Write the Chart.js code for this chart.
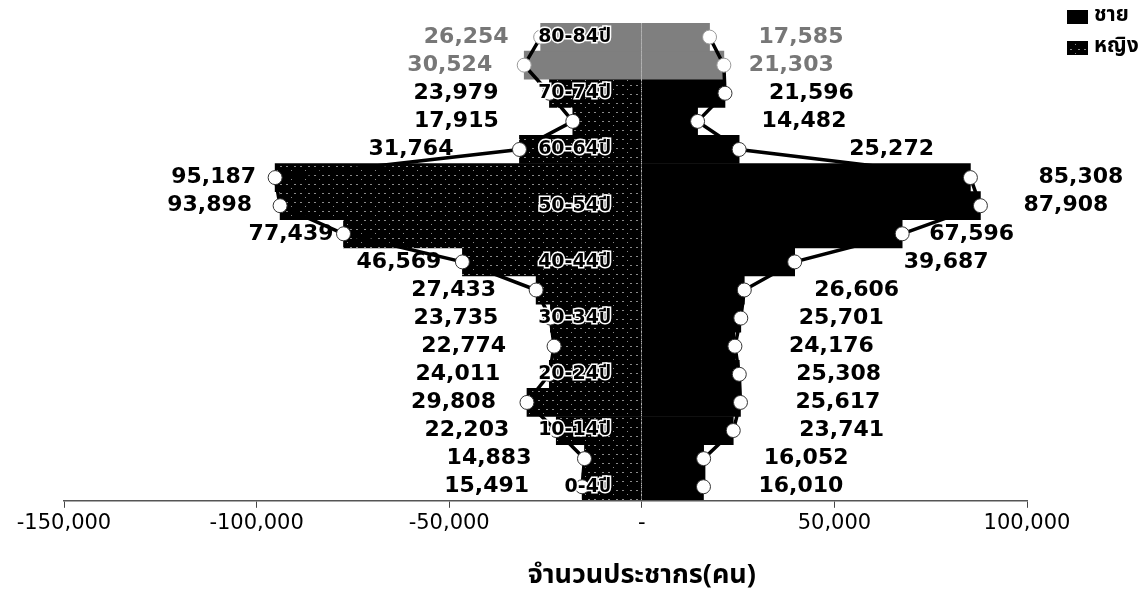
<!DOCTYPE html>
<html>
<head>
<meta charset="utf-8">
<script src="https://cdn.jsdelivr.net/npm/chart.js@4.4.1/dist/chart.umd.min.js"></script>
<style>
  html, body { margin: 0; padding: 0; background: #fff; }
</style>
</head>
<body>
<canvas id="pyramid" width="1146" height="599"></canvas>
<script>
// age groups, youngest first (drawn bottom-up)
const ageGroups = ['0-4ปี', '5-9ปี', '10-14ปี', '15-19ปี', '20-24ปี', '25-29ปี', '30-34ปี', '35-39ปี',
  '40-44ปี', '45-49ปี', '50-54ปี', '55-59ปี', '60-64ปี', '65-69ปี', '70-74ปี', '75-79ปี', '80-84ปี'];
const male = [16010, 16052, 23741, 25617, 25308, 24176, 25701, 26606, 39687,
  67596, 87908, 85308, 25272, 14482, 21596, 21303, 17585];
const female = [15491, 14883, 22203, 29808, 24011, 22774, 23735, 27433, 46569,
  77439, 93898, 95187, 31764, 17915, 23979, 30524, 26254];
const xTickValues = [-150000, -100000, -50000, 0, 50000, 100000];
const seriesNames = ['ชาย', 'หญิง'];
const axisTitle = 'จำนวนประชากร(คน)';

// how far each value label sits from its point (px)
const gapLeft = [53, 53, 47, 31, 49, 48, 52, 40, 21, 10, 28, 19, 66, 74, 51, 32, 32];
const gapRight = [55, 60, 66, 55, 57, 54, 58, 70, 109, 27, 43, 68, 110, 64, 44, 25, 49];

const thaiFont = "Tahoma, 'Noto Sans Thai', 'Noto Sans', 'DejaVu Sans', sans-serif";
const numFont = "'DejaVu Sans', Verdana, sans-serif";
const faded = '#7f7f7f';
const isFaded = i => i >= ageGroups.length - 2;

function femalePattern() {
  const c = document.createElement('canvas');
  c.width = 14; c.height = 9;
  const g = c.getContext('2d');
  g.fillStyle = '#000';
  g.fillRect(0, 0, 14, 9);
  g.fillStyle = '#8a8a8a';
  g.fillRect(0, 4, 2, 1);
  g.fillRect(6, 4, 2, 1);
  g.fillRect(11, 8, 1, 1);
  return g.createPattern(c, 'repeat');
}
const femaleFill = femalePattern();

const fmt = v => Math.abs(v).toLocaleString('en-US');

const valueLabels = {
  id: 'valueLabels',
  afterDatasetsDraw(chart) {
    const ctx = chart.ctx;
    ctx.save();
    ctx.font = 'bold 22px ' + numFont;
    ctx.textBaseline = 'middle';
    [0, 1].forEach(di => {
      const meta = chart.getDatasetMeta(di);
      const left = di === 0;
      meta.data.forEach((pt, i) => {
        ctx.fillStyle = isFaded(i) ? '#777' : '#000';
        ctx.textAlign = left ? 'right' : 'left';
        const x = left ? pt.x - gapLeft[i] : pt.x + gapRight[i];
        ctx.fillText(fmt(chart.data.datasets[di].data[i]), x, pt.y);
      });
    });
    ctx.restore();
  }
};

// legend in the top right corner and the axis title under the zero tick
const decor = {
  id: 'decor',
  afterDraw(chart) {
    const {ctx, scales, chartArea} = chart;
    ctx.save();
    ctx.textBaseline = 'middle';
    ctx.textAlign = 'left';
    ctx.font = 'bold 21px ' + thaiFont;
    const fills = ['#000', femaleFill];
    seriesNames.forEach((name, i) => {
      const cy = 17 + i * 31;
      ctx.fillStyle = fills[i];
      ctx.fillRect(1067, cy - 7, 21, 14);
      if (i === 1) {
        ctx.strokeStyle = '#000';
        ctx.lineWidth = 1;
        ctx.strokeRect(1067.5, cy - 6.5, 20, 13);
      }
      ctx.fillStyle = '#000';
      ctx.fillText(name, 1094, cy);
    });
    ctx.textAlign = 'center';
    ctx.font = 'bold 27px ' + thaiFont;
    ctx.fillText(axisTitle, scales.x.getPixelForValue(0), chartArea.bottom + 77);
    ctx.restore();
  }
};

const pointStyle = {
  type: 'line',
  indexAxis: 'y',
  borderColor: '#000',
  borderWidth: 3.5,
  tension: 0,
  pointRadius: 7,
  pointHoverRadius: 7,
  pointBackgroundColor: '#fff',
  pointBorderColor: ctx => isFaded(ctx.dataIndex) ? '#999' : '#333',
  pointBorderWidth: 1,
  order: 1
};

new Chart(document.getElementById('pyramid'), {
  type: 'bar',
  data: {
    labels: ageGroups,
    datasets: [
      Object.assign({label: seriesNames[1], data: female.map(v => -v)}, pointStyle),
      Object.assign({label: seriesNames[0], data: male}, pointStyle),
      {
        label: seriesNames[0],
        data: male,
        backgroundColor: ctx => isFaded(ctx.dataIndex) ? faded : '#000',
        grouped: false,
        barPercentage: 1,
        categoryPercentage: 1,
        order: 2
      },
      {
        label: seriesNames[1],
        data: female.map(v => -v),
        backgroundColor: ctx => isFaded(ctx.dataIndex) ? faded : femaleFill,
        grouped: false,
        barPercentage: 1,
        categoryPercentage: 1,
        order: 2
      }
    ]
  },
  options: {
    indexAxis: 'y',
    responsive: false,
    animation: false,
    events: [],
    layout: {padding: {left: 64, right: 119, top: 23, bottom: 60}},
    plugins: {legend: {display: false}, tooltip: {enabled: false}},
    scales: {
      x: {
        type: 'linear',
        min: -150000,
        max: 100000,
        afterBuildTicks: s => { s.ticks = xTickValues.map(v => ({value: v})); },
        ticks: {
          callback: v => v === 0 ? '-' : v.toLocaleString('en-US'),
          font: {family: numFont, size: 21},
          color: '#000',
          padding: 3,
          maxRotation: 0,
          autoSkip: false
        },
        // only the zero line is drawn across the plot, dotted over the bars
        grid: {
          z: 1,
          color: ctx => ctx.tick && ctx.tick.value === 0 ? '#b4b4b4' : 'transparent',
          lineWidth: 1,
          tickLength: 7,
          tickColor: '#444'
        },
        border: {z: 1, color: '#555', width: 1.5, dash: [1, 3]}
      },
      y: {
        type: 'category',
        reverse: true,
        offset: true,
        // age labels sit just left of the zero line
        position: {x: -8000},
        afterFit: s => { s.paddingTop = 0; s.paddingBottom = 0; },
        grid: {display: false, drawTicks: false},
        border: {display: false},
        ticks: {
          z: 1,
          autoSkip: false,
          padding: 0,
          callback: (v, i) => i % 2 === 0 ? ageGroups[i] : '',
          color: '#000',
          textStrokeColor: '#fff',
          textStrokeWidth: 3,
          font: {family: "'DejaVu Sans', 'Noto Sans Thai', Tahoma, sans-serif", size: 19, weight: 'bold'}
        }
      }
    }
  },
  plugins: [valueLabels, decor]
});
</script>
</body>
</html>
